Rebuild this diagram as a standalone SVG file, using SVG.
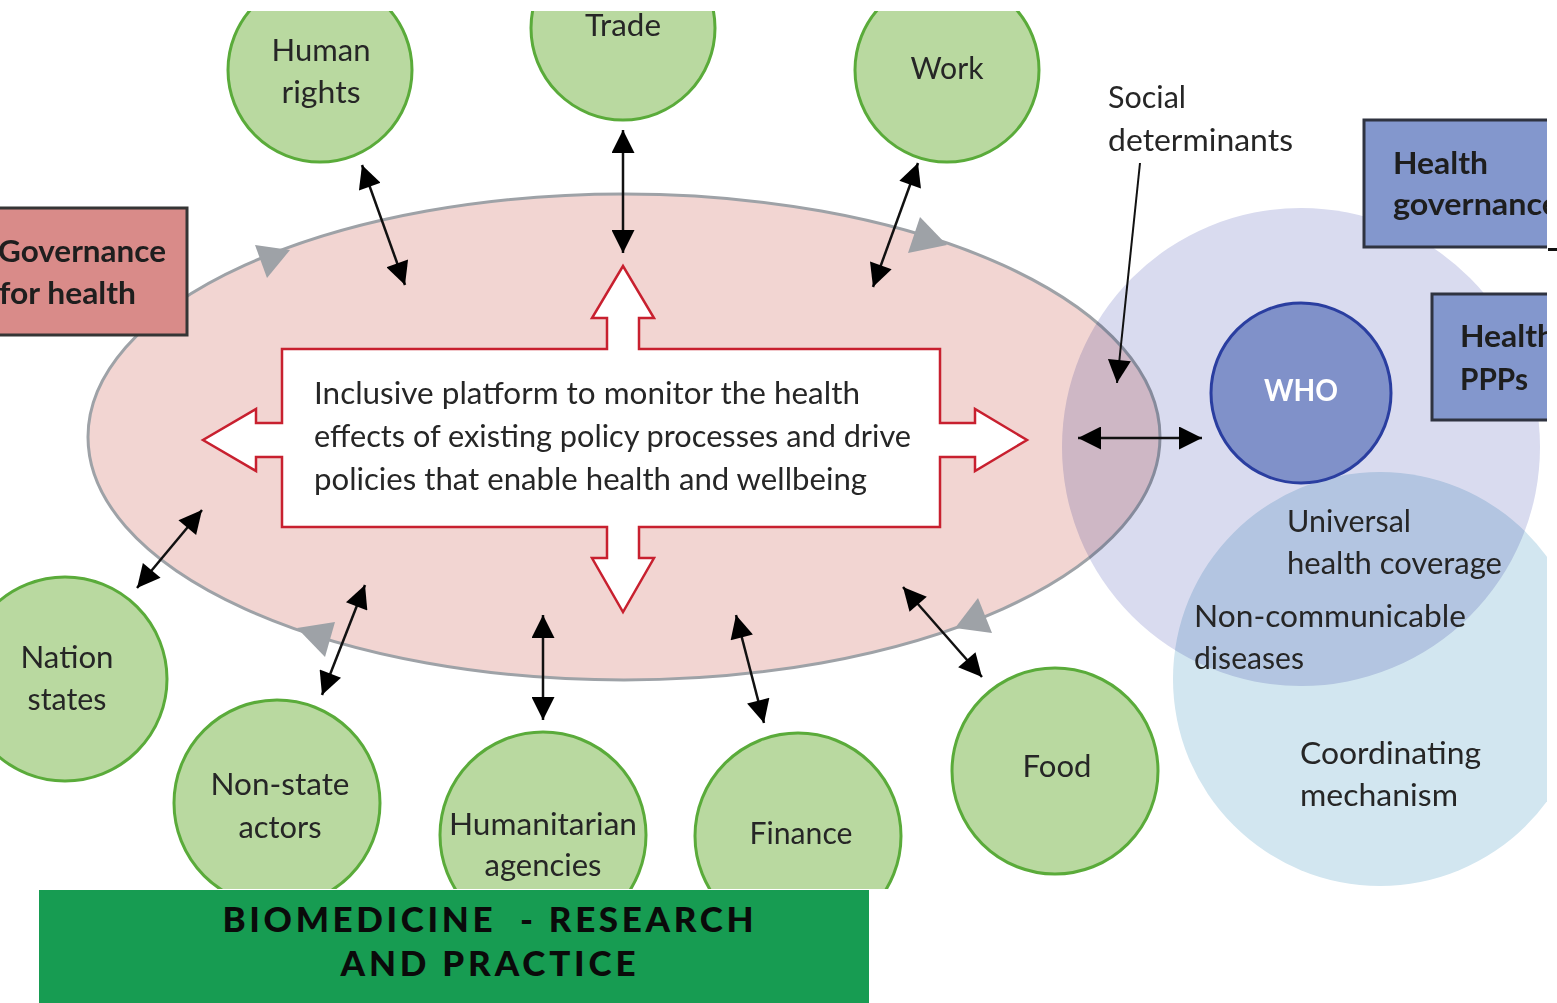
<svg xmlns="http://www.w3.org/2000/svg" width="1557" height="1003" viewBox="0 0 1557 1003">
  <style>
    .lbl { font-family: "Lato", "Open Sans", "Liberation Sans", sans-serif; font-size: 31px; fill: #262626; }
    .mid { text-anchor: middle; }
    .bold { font-weight: 700; fill: #1e1e1e; }
    .green { fill: #b9d9a0; stroke: #5aab3a; stroke-width: 3; }
    .blend { mix-blend-mode: multiply; }
    .conn { stroke: #111; stroke-width: 2.5; fill: none; marker-start: url(#head); marker-end: url(#head); }
    .cycle { fill: #9ea2a7; }
    .banner { font-family: "Lato", "Open Sans", "Liberation Sans", sans-serif; font-size: 35px; font-weight: 900; fill: #0a0a0a; text-anchor: middle; white-space: pre; }
  </style>
  <defs>
    <clipPath id="frame">
      <rect x="0" y="11" width="1547" height="878"/>
    </clipPath>
    <marker id="head" viewBox="0 0 10 10" refX="10" refY="5" markerUnits="userSpaceOnUse" markerWidth="25" markerHeight="23" orient="auto-start-reverse">
      <path d="M0,0 L10,5 L0,10 z" fill="#000"/>
    </marker>
    <marker id="tip" viewBox="0 0 10 10" refX="10" refY="5" markerUnits="userSpaceOnUse" markerWidth="25" markerHeight="23" orient="auto">
      <path d="M0,0 L10,5 L0,10 z" fill="#000"/>
    </marker>
  </defs>

  <rect x="0" y="0" width="1557" height="1003" fill="#fff"/>

  <g clip-path="url(#frame)">
    <!-- policy arena -->
    <g id="arena">
      <ellipse cx="624" cy="437" rx="536" ry="243" fill="#f2d5d2" stroke="#9ea2a7" stroke-width="3"/>
    </g>

    <!-- health system spheres -->
    <g id="health-sphere">
      <circle class="blend" cx="1301" cy="447" r="239" fill="#d9dbef"/>
    </g>
    <g id="coordinating-sphere">
      <circle class="blend" cx="1380" cy="679" r="207" fill="#d2e6f0"/>
    </g>

    <!-- cycle arrowheads along the arena rim -->
    <g id="cycle">
      <polygon class="cycle" points="255,245 290,250 267,278"/>
      <polygon class="cycle" points="920,217 947,245 908,253"/>
      <polygon class="cycle" points="978,598 955,628 992,633"/>
      <polygon class="cycle" points="335,622 297,628 325,657"/>
    </g>

    <!-- sectors -->
    <g id="human-rights">
      <circle class="green" cx="320" cy="70" r="92"/>
      <text class="lbl mid" x="321" y="61" textLength="99" lengthAdjust="spacingAndGlyphs">Human</text>
      <text class="lbl mid" x="321" y="103" textLength="79" lengthAdjust="spacingAndGlyphs">rights</text>
    </g>
    <g id="trade">
      <circle class="green" cx="623" cy="28" r="92"/>
      <text class="lbl mid" x="623" y="36" textLength="76" lengthAdjust="spacingAndGlyphs">Trade</text>
    </g>
    <g id="work">
      <circle class="green" cx="947" cy="70" r="92"/>
      <text class="lbl mid" x="947" y="79" textLength="73" lengthAdjust="spacingAndGlyphs">Work</text>
    </g>
    <g id="nation-states">
      <circle class="green" cx="65" cy="679" r="102"/>
      <text class="lbl mid" x="67" y="668" textLength="93" lengthAdjust="spacingAndGlyphs">Nation</text>
      <text class="lbl mid" x="67" y="710" textLength="79" lengthAdjust="spacingAndGlyphs">states</text>
    </g>
    <g id="non-state-actors">
      <circle class="green" cx="277" cy="803" r="103"/>
      <text class="lbl mid" x="280" y="795" textLength="139" lengthAdjust="spacingAndGlyphs">Non-state</text>
      <text class="lbl mid" x="280" y="838" textLength="83" lengthAdjust="spacingAndGlyphs">actors</text>
    </g>
    <g id="humanitarian-agencies">
      <circle class="green" cx="543" cy="835" r="103"/>
      <text class="lbl mid" x="543" y="835" textLength="188" lengthAdjust="spacingAndGlyphs">Humanitarian</text>
      <text class="lbl mid" x="543" y="876" textLength="117" lengthAdjust="spacingAndGlyphs">agencies</text>
    </g>
    <g id="finance">
      <circle class="green" cx="798" cy="836" r="103"/>
      <text class="lbl mid" x="801" y="844" textLength="103" lengthAdjust="spacingAndGlyphs">Finance</text>
    </g>
    <g id="food">
      <circle class="green" cx="1055" cy="771" r="103"/>
      <text class="lbl mid" x="1057" y="777" textLength="69" lengthAdjust="spacingAndGlyphs">Food</text>
    </g>

    <!-- governance labels -->
    <g id="governance-for-health">
      <rect x="-6" y="208" width="193" height="127" fill="#d98b89" stroke="#353535" stroke-width="3"/>
      <text class="lbl bold" x="-2" y="262" textLength="168" lengthAdjust="spacingAndGlyphs">Governance</text>
      <text class="lbl bold" x="-1" y="304" textLength="137" lengthAdjust="spacingAndGlyphs">for health</text>
    </g>
    <g id="health-governance">
      <rect x="1364" y="120" width="200" height="127" fill="#8397cd" stroke="#2f3340" stroke-width="3"/>
      <text class="lbl bold" x="1393" y="174" textLength="95" lengthAdjust="spacingAndGlyphs">Health</text>
      <text class="lbl bold" x="1393" y="215" textLength="166" lengthAdjust="spacingAndGlyphs">governance</text>
    </g>
    <g id="health-ppps">
      <rect x="1432" y="294" width="130" height="126" fill="#8397cd" stroke="#2f3340" stroke-width="3"/>
      <text class="lbl bold" x="1460" y="347" textLength="95" lengthAdjust="spacingAndGlyphs">Health</text>
      <text class="lbl bold" x="1460" y="390" textLength="68" lengthAdjust="spacingAndGlyphs">PPPs</text>
    </g>
    <g id="who">
      <circle cx="1301" cy="393" r="90" fill="#8091c9" stroke="#2a3ea0" stroke-width="3"/>
      <text class="lbl mid" x="1301" y="401" textLength="74" lengthAdjust="spacingAndGlyphs" style="font-weight:700; fill:#fff">WHO</text>
    </g>

    <!-- central platform with four outward arrows -->
    <g id="platform">
      <path d="M282,349 H607 V318 H592 L623,266 L654,318 H639 V349 H940 V423 H975 V409 L1027,440 L975,471 V457 H940 V527 H639 V558 H654 L623,612 L592,558 H607 V527 H282 V457 H256 V471 L203,440 L256,409 V423 H282 Z" fill="#fff" stroke="#c8202f" stroke-width="2.5" stroke-linejoin="miter"/>
      <text class="lbl" x="314" y="404" textLength="546" lengthAdjust="spacingAndGlyphs">Inclusive platform to monitor the health</text>
      <text class="lbl" x="314" y="447" textLength="597" lengthAdjust="spacingAndGlyphs">effects of existing policy processes and drive</text>
      <text class="lbl" x="314" y="490" textLength="553" lengthAdjust="spacingAndGlyphs">policies that enable health and wellbeing</text>
    </g>

    <!-- sphere texts -->
    <g id="social-determinants">
      <text class="lbl" x="1108" y="108" textLength="78" lengthAdjust="spacingAndGlyphs">Social</text>
      <text class="lbl" x="1108" y="151" textLength="185" lengthAdjust="spacingAndGlyphs">determinants</text>
    </g>
    <g id="uhc">
      <text class="lbl" x="1287" y="532" textLength="124" lengthAdjust="spacingAndGlyphs">Universal</text>
      <text class="lbl" x="1287" y="574" textLength="215" lengthAdjust="spacingAndGlyphs">health coverage</text>
    </g>
    <g id="ncd">
      <text class="lbl" x="1194" y="627" textLength="272" lengthAdjust="spacingAndGlyphs">Non-communicable</text>
      <text class="lbl" x="1194" y="669" textLength="110" lengthAdjust="spacingAndGlyphs">diseases</text>
    </g>
    <g id="coordinating-mechanism">
      <text class="lbl" x="1300" y="764" textLength="181" lengthAdjust="spacingAndGlyphs">Coordinating</text>
      <text class="lbl" x="1300" y="806" textLength="158" lengthAdjust="spacingAndGlyphs">mechanism</text>
    </g>

    <!-- two-way links between the arena and each sector -->
    <g id="connectors">
      <line class="conn" x1="362" y1="165" x2="405" y2="285"/>
      <line class="conn" x1="623" y1="130" x2="623" y2="253"/>
      <line class="conn" x1="918" y1="163" x2="873" y2="287"/>
      <line class="conn" x1="202" y1="510" x2="137" y2="588"/>
      <line class="conn" x1="365" y1="585" x2="322" y2="695"/>
      <line class="conn" x1="543" y1="615" x2="543" y2="720"/>
      <line class="conn" x1="736" y1="615" x2="764" y2="723"/>
      <line class="conn" x1="903" y1="587" x2="982" y2="677"/>
      <line class="conn" x1="1078" y1="438" x2="1202" y2="438"/>
      <line x1="1140" y1="163" x2="1117" y2="383" stroke="#111" stroke-width="2" marker-end="url(#tip)"/>
    </g>
  </g>

  <!-- edge tick at the right margin -->
  <rect x="1548" y="248" width="9" height="3" fill="#111"/>

  <!-- publisher banner -->
  <g id="banner">
    <rect x="39" y="890" width="830" height="113" fill="#179c52"/>
    <text class="banner" x="488" y="932" textLength="531" lengthAdjust="spacing" xml:space="preserve">BIOMEDICINE  - RESEARCH</text>
    <text class="banner" x="488" y="976" textLength="295" lengthAdjust="spacing">AND PRACTICE</text>
  </g>
</svg>
